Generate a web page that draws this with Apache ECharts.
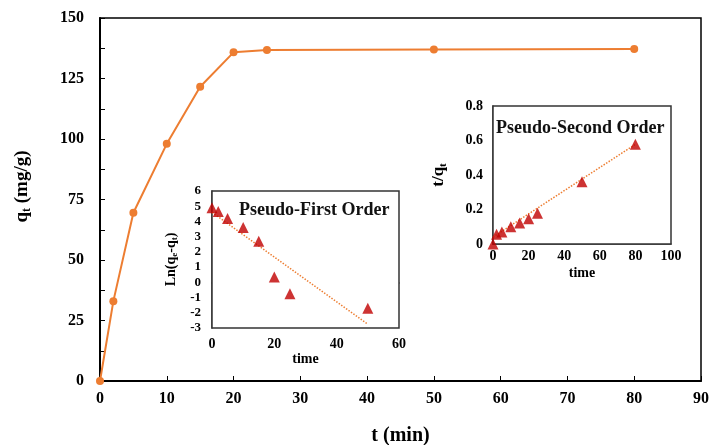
<!DOCTYPE html>
<html>
<head>
<meta charset="utf-8">
<script src="https://cdn.jsdelivr.net/npm/echarts@6/dist/echarts.min.js"></script>
<style>
  html, body { margin: 0; padding: 0; background: #fff; }
  #chart { width: 709px; height: 445px; }
</style>
</head>
<body>
<div id="chart"></div>
<script>
// main kinetic curve: q_t vs t
const timeMin = [0, 2, 5, 10, 15, 20, 25, 50, 80];
const qt = [0, 33, 69.5, 98, 121.6, 135.8, 136.8, 137.0, 137.2];

// inset 1: pseudo-first order, ln(qe - qt) vs time
const pfoTime = [0, 2, 5, 10, 15, 20, 25, 50];
const pfoLn = [4.9, 4.65, 4.2, 3.6, 2.7, 0.35, -0.75, -1.7];
const pfoFit = [[0, 4.6], [50, -2.75]];

// inset 2: pseudo-second order, t/qt vs time
const psoTime = [0, 2, 5, 10, 15, 20, 25, 50, 80];
const psoRatio = [0, 0.056, 0.07, 0.1, 0.122, 0.147, 0.178, 0.361, 0.578];
const psoFit = [[0, 0.04], [80, 0.578]];

const serif = '"Liberation Serif", "Times New Roman", serif';
const orange = '#ED7D31';
const darkRed = '#C00000';

function pairs(xs, ys) {
  return xs.map((x, i) => [x, ys[i]]);
}

const chart = echarts.init(document.getElementById('chart'));

const subRich = {
  b: { fontFamily: serif, fontWeight: 'bold', fontSize: 19, color: '#000' },
  s: { fontFamily: serif, fontWeight: 'bold', fontSize: 12, color: '#000', padding: [10, 0, 0, 0] }
};
const lnRich = {
  b: { fontFamily: serif, fontWeight: 'bold', fontSize: 14, color: '#000' },
  s: { fontFamily: serif, fontWeight: 'bold', fontSize: 9, color: '#000', padding: [7, 0, 0, 0] }
};
const tqRich = {
  b: { fontFamily: serif, fontWeight: 'bold', fontSize: 17, color: '#000' },
  s: { fontFamily: serif, fontWeight: 'bold', fontSize: 11, color: '#000', padding: [9, 0, 0, 0] }
};

const options = {
  animation: false,
  backgroundColor: '#fff',
  title: [
    {
      text: 'Pseudo-First Order',
      left: 239, top: 201, padding: 0,
      textStyle: { fontFamily: serif, fontWeight: 'bold', fontSize: 18, color: '#111' }
    },
    {
      text: 'Pseudo-Second Order',
      left: 496, top: 119, padding: 0,
      textStyle: { fontFamily: serif, fontWeight: 'bold', fontSize: 18, color: '#111' }
    }
  ],
  grid: [
    { left: 100, top: 18, width: 601, height: 363, outerBoundsMode: 'none', show: true, borderColor: '#000', borderWidth: 1.5, backgroundColor: 'transparent' },
    { left: 212, top: 191, width: 187, height: 137, outerBoundsMode: 'none', show: true, borderColor: '#333', borderWidth: 1.5, backgroundColor: '#fff', z: 5 },
    { left: 493, top: 106, width: 178, height: 138, outerBoundsMode: 'none', show: true, borderColor: '#333', borderWidth: 1.5, backgroundColor: '#fff', z: 5 }
  ],
  xAxis: [
    {
      gridIndex: 0, type: 'value', min: 0, max: 90, interval: 10,
      name: 't (min)', nameLocation: 'middle', nameGap: 45,
      nameTextStyle: { fontFamily: serif, fontWeight: 'bold', fontSize: 20, color: '#000' },
      axisLine: { lineStyle: { color: '#000', width: 2 } },
      axisTick: { inside: true, length: 5, lineStyle: { color: '#000' } },
      axisLabel: { fontFamily: serif, fontWeight: 'bold', fontSize: 16, color: '#000', margin: 10 },
      splitLine: { show: false }
    },
    {
      gridIndex: 1, type: 'value', min: 0, max: 60, interval: 20,
      name: 'time', nameLocation: 'middle', nameGap: 22,
      nameTextStyle: { fontFamily: serif, fontWeight: 'bold', fontSize: 14, color: '#000' },
      axisLine: { lineStyle: { color: '#333', width: 1.5 } },
      axisTick: { show: false },
      axisLabel: { fontFamily: serif, fontWeight: 'bold', fontSize: 14, color: '#000', margin: 9 },
      splitLine: { show: false }
    },
    {
      gridIndex: 2, type: 'value', min: 0, max: 100, interval: 20,
      name: 'time', nameLocation: 'middle', nameGap: 22,
      nameTextStyle: { fontFamily: serif, fontWeight: 'bold', fontSize: 14, color: '#000' },
      axisLine: { lineStyle: { color: '#333', width: 1.5 } },
      axisTick: { show: false },
      axisLabel: { fontFamily: serif, fontWeight: 'bold', fontSize: 14, color: '#000', margin: 5 },
      splitLine: { show: false }
    }
  ],
  yAxis: [
    {
      gridIndex: 0, type: 'value', min: 0, max: 150, interval: 25,
      name: '{b|q}{s|t}{b| (mg/g)}', nameLocation: 'middle', nameGap: 67,
      nameTextStyle: { rich: subRich, padding: [0, 0, 0, 26] },
      axisLine: { lineStyle: { color: '#000', width: 2 } },
      axisTick: { inside: true, length: 5, lineStyle: { color: '#000' } },
      minorTick: { show: true, splitNumber: 2, length: 5, lineStyle: { color: '#000' } },
      axisLabel: { fontFamily: serif, fontWeight: 'bold', fontSize: 16, color: '#000', margin: 16 },
      splitLine: { show: false }
    },
    {
      gridIndex: 1, type: 'value', min: -3, max: 6, interval: 1,
      name: '{b|Ln(q}{s|e}{b|-q}{s|t}{b|)}', nameLocation: 'middle', nameGap: 33,
      nameTextStyle: { rich: lnRich },
      axisLine: { lineStyle: { color: '#333', width: 1.5 } },
      axisTick: { show: false },
      axisLabel: { fontFamily: serif, fontWeight: 'bold', fontSize: 13, color: '#000', margin: 11 },
      splitLine: { show: false }
    },
    {
      gridIndex: 2, type: 'value', min: 0, max: 0.8, interval: 0.2,
      name: '{b|t/q}{s|t}', nameLocation: 'middle', nameGap: 44,
      nameTextStyle: { rich: tqRich },
      axisLine: { lineStyle: { color: '#333', width: 1.5 } },
      axisTick: { show: false },
      axisLabel: { fontFamily: serif, fontWeight: 'bold', fontSize: 14, color: '#000', margin: 10 },
      splitLine: { show: false }
    }
  ],
  series: [
    {
      name: 'qt', type: 'line', xAxisIndex: 0, yAxisIndex: 0,
      data: pairs(timeMin, qt),
      symbol: 'circle', symbolSize: 8,
      lineStyle: { color: orange, width: 2 },
      itemStyle: { color: orange },
      z: 3
    },
    {
      name: 'pfo fit', type: 'line', xAxisIndex: 1, yAxisIndex: 1,
      data: pfoFit, symbol: 'none',
      lineStyle: { color: orange, width: 1.5, type: 'dotted' },
      z: 6
    },
    {
      name: 'pfo', type: 'scatter', xAxisIndex: 1, yAxisIndex: 1,
      data: pairs(pfoTime, pfoLn),
      symbol: 'triangle', symbolSize: 11,
      itemStyle: { color: darkRed },
      z: 7
    },
    {
      name: 'pso fit', type: 'line', xAxisIndex: 2, yAxisIndex: 2,
      data: psoFit, symbol: 'none',
      lineStyle: { color: orange, width: 1.5, type: 'dotted' },
      z: 6
    },
    {
      name: 'pso', type: 'scatter', xAxisIndex: 2, yAxisIndex: 2,
      data: pairs(psoTime, psoRatio),
      symbol: 'triangle', symbolSize: 11,
      itemStyle: { color: darkRed },
      z: 7
    }
  ]
};

chart.setOption(options);
</script>
</body>
</html>
